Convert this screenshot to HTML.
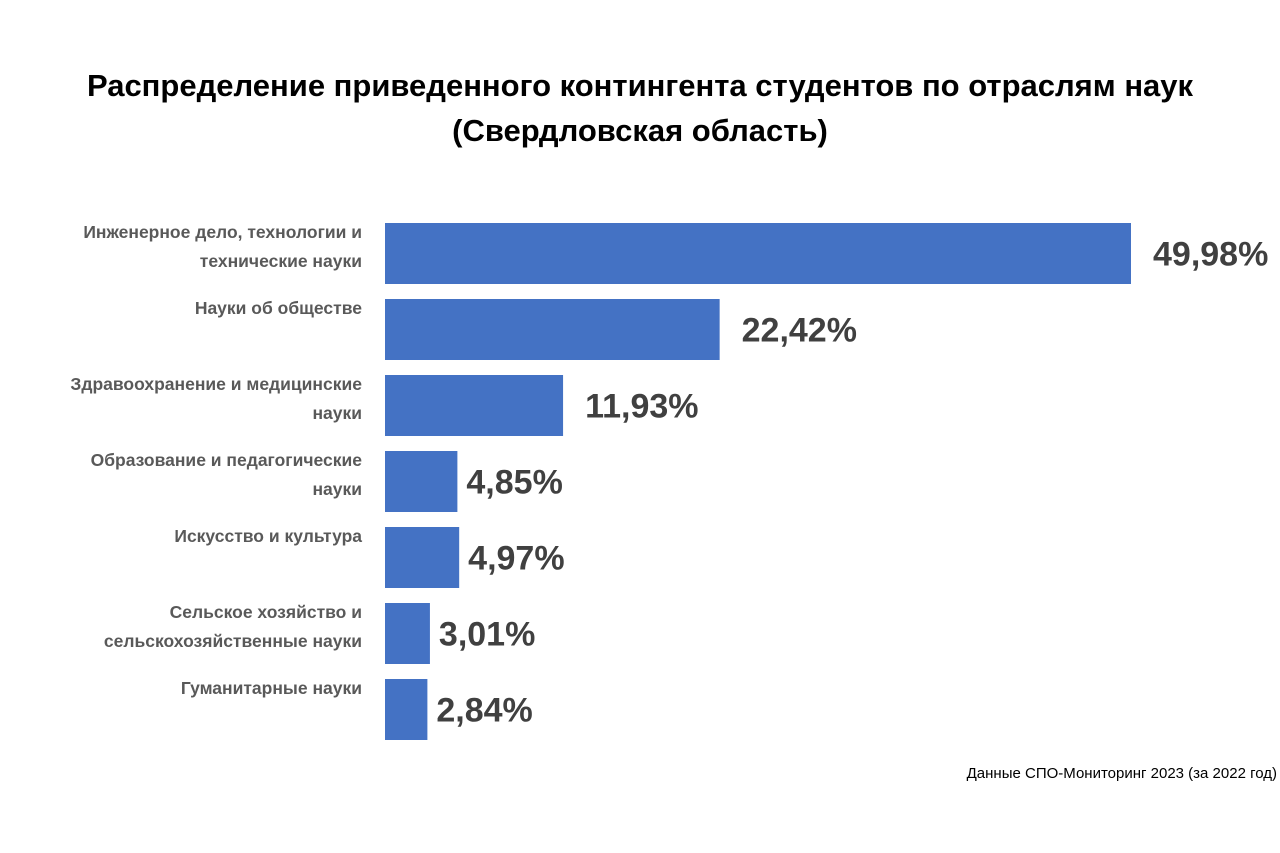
<!DOCTYPE html>
<html><head><meta charset="utf-8"><style>
body{margin:0;background:#fff;font-family:"Liberation Sans","DejaVu Sans",sans-serif;}
#wrap{position:relative;width:1280px;height:853px;overflow:hidden;}
</style></head><body>
<div id="wrap">
<svg id="svg" width="1280" height="853">
<text x="640" y="96" text-anchor="middle" font-size="31" font-weight="bold" fill="#000">Распределение приведенного контингента студентов по отраслям наук</text>
<text x="640" y="141" text-anchor="middle" font-size="31" font-weight="bold" fill="#000">(Свердловская область)</text>
<text x="1277" y="778" text-anchor="end" font-size="15" fill="#000">Данные СПО-Мониторинг 2023 (за 2022 год)</text>
</svg>
</div>
<script>
const categories=[["Инженерное дело, технологии и","технические науки"],["Науки об обществе"],["Здравоохранение и медицинские","науки"],["Образование и педагогические","науки"],["Искусство и культура"],["Сельское хозяйство и","сельскохозяйственные науки"],["Гуманитарные науки"]];
const values=[49.98,22.42,11.93,4.85,4.97,3.01,2.84];
const valueLabels=["49,98%","22,42%","11,93%","4,85%","4,97%","3,01%","2,84%"];
const svg=document.getElementById('svg');
const NS='http://www.w3.org/2000/svg';
const x0=385, pxPer=746/49.98, top0=223, pitch=76, bh=61;
const xScale=v=>x0+v*pxPer;
const yScale=i=>top0+i*pitch;
values.forEach((v,i)=>{
  const r=document.createElementNS(NS,'rect');
  r.setAttribute('x',x0);r.setAttribute('y',yScale(i));
  r.setAttribute('width',xScale(v)-x0);r.setAttribute('height',bh);
  r.setAttribute('fill','#4472C4');
  
  
  svg.appendChild(r);
  const t=document.createElementNS(NS,'text');
  t.setAttribute('x',xScale(v)+(v>10?22:9));
  t.setAttribute('y',yScale(i)+bh/2+12);
  t.setAttribute('font-size','34');t.setAttribute('font-weight','bold');t.setAttribute('fill','#404040');
  t.textContent=valueLabels[i];
  
  
  svg.appendChild(t);
  const lines=categories[i];
  const lt=document.createElementNS(NS,'text');
  lt.setAttribute('text-anchor','end');lt.setAttribute('font-size','17.5');lt.setAttribute('font-weight','bold');lt.setAttribute('fill','#595959');
  
  
  const startY=lines.length===1?yScale(i)+15:yScale(i)+15;
  lines.forEach((ln,j)=>{
    const ts=document.createElementNS(NS,'tspan');
    ts.setAttribute('x',362);ts.setAttribute('y',startY+j*29);
    ts.textContent=ln;lt.appendChild(ts);
  });
  svg.appendChild(lt);
});
</script>
</body></html>
